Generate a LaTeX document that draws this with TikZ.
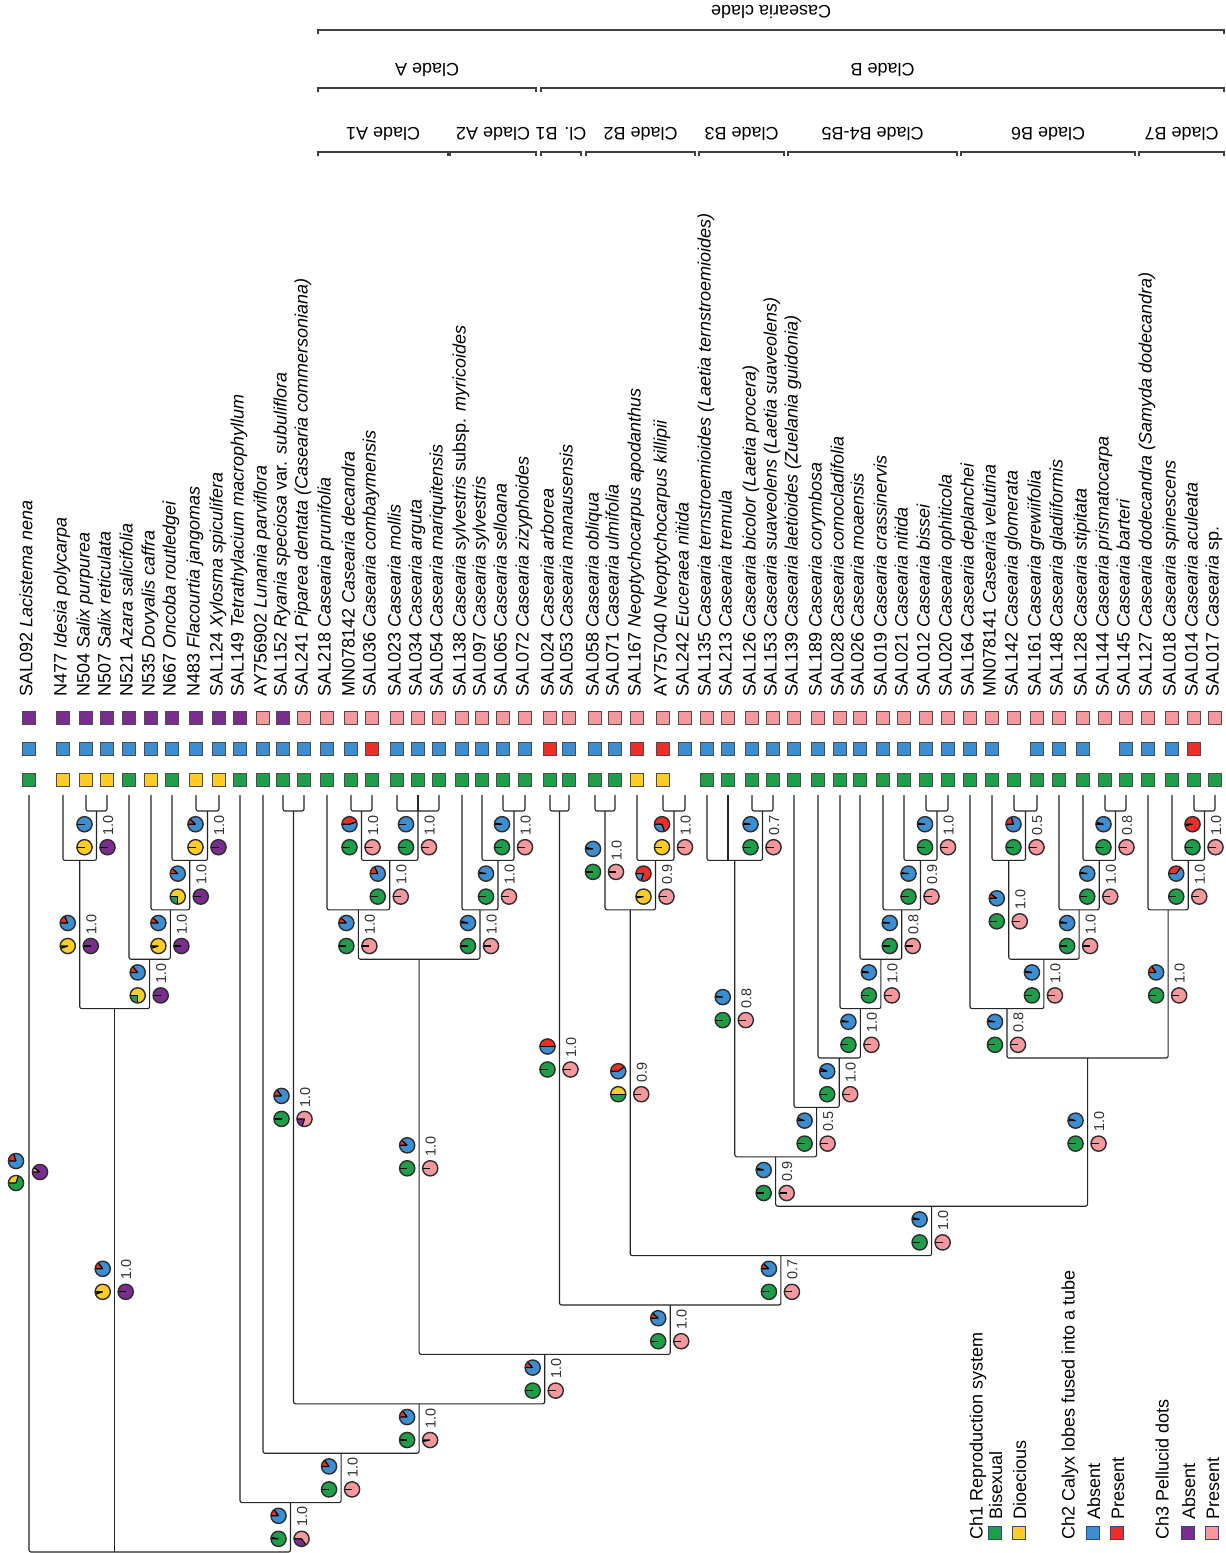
\documentclass[tikz,border=0pt]{standalone}
\usepackage{fontspec}
\setmainfont{Liberation Sans}
\usetikzlibrary{calc}

\definecolor{chgreen}{RGB}{30,158,72}
\definecolor{chyellow}{RGB}{255,204,38}
\definecolor{chblue}{RGB}{60,142,208}
\definecolor{chred}{RGB}{236,45,40}
\definecolor{chpurple}{RGB}{122,45,142}
\definecolor{chpink}{RGB}{245,152,158}
\definecolor{rimgray}{RGB}{45,45,45}

\tikzset{
  branch/.style={draw=black!85, line width=0.55pt, rounded corners=1pt},
  bracket/.style={draw=black!75, line width=0.6pt},
  sq/.style={draw=black!70, line width=0.7pt, minimum size=6.6pt, inner sep=0pt},
  sqg/.style={fill=chgreen}, sqy/.style={fill=chyellow},
  sqb/.style={fill=chblue}, sqr/.style={fill=chred},
  sqp/.style={fill=chpurple}, sqk/.style={fill=chpink},
  sqn/.style={draw=none, fill=none},
  taxon/.style={rotate=90, anchor=base west, inner sep=0pt, font=\fontsize{9}{10}\selectfont},
  support/.style={rotate=90, anchor=base west, inner sep=0pt, text=black!80, font=\fontsize{7.2}{8}\selectfont},
  header/.style={rotate=180, inner sep=0pt, font=\fontsize{9}{10}\selectfont},
  legtitle/.style={rotate=90, anchor=base west, inner sep=0pt, font=\fontsize{9}{10}\selectfont},
  legkey/.style={draw={rgb, 255:red, 45; green, 70; blue, 150}, line width=0.4pt, minimum size=6.2pt, inner sep=0pt},
  slice/.style={draw=black, line width=0.6pt},
  rim/.style={draw=rimgray, line width=0.7pt},
}

% one pie: centre, share of second state, first colour, second colour
\newcommand{\pie}[4]{%
  \fill[#3] (#1) circle[radius=7.6];
  \fill[#4] (#1) -- ++(180:7.6) arc[start angle=180, end angle={180+360*#2}, radius=7.6] -- cycle;
  \draw[slice] (#1) -- ++(180:7.6) (#1) -- ++({180+360*#2}:7.6);
  \draw[rim] (#1) circle[radius=7.6];
}
% clade: name, left child, right child, level
\newcommand{\clade}[4]{%
  \path ($(#2)!0.5!(#3)$) coordinate (#1);
  \coordinate (#1) at (#1 |- #4);
  \draw[branch] (#2) |- (#1) -| (#3);
}
% pies on a stem: node, parent level, Ch2, Ch1, Ch3, support
\newcommand{\charpies}[6]{%
  \path ($(#1)!0.5!(#1 |- #2)$) coordinate (#1-m);
  \pie{$(#1-m)+(-12,-11.5)$}{#3}{chblue}{chred}
  \pie{$(#1-m)+(-12,11.5)$}{#4}{chgreen}{chyellow}
  \pie{$(#1-m)+(11,11.5)$}{#5}{chpurple}{chpink}
  \node[support] (#1-pp) at ($(#1-m)+(16.5,0)$) {#6};
}
% bracket over a clade: name, x1, x2, y, text
\newcommand{\cladebar}[5]{%
  \draw[bracket] ({#2},{#4+4}) -- ({#2},{#4}) -- ({#3},{#4}) -- ({#3},{#4+4});
  \node[header] (#1) at ({(#2+#3)/2},{#4-18}) {#5};
}

\begin{document}
\begin{tikzpicture}[x=0.5pt,y=0.5pt,yscale=-1,xscale=1]
\path[fill=white] (0,0) rectangle (1226,1553);
\useasboundingbox (0,0) rectangle (1226,1553);

%Levels of the tree
\foreach \k in {0,...,15} \coordinate (L\k) at (0,{811+49.4*\k});

%Taxa, character squares and names
\foreach \x/\ca/\cb/\cc/\lab [count=\i] in {
  29/g/b/p/{SAL092 \textit{Lacistema nena}},
  63/y/b/p/{N477 \textit{Idesia polycarpa}},
  86/y/b/p/{N504 \textit{Salix purpurea}},
  107/y/b/p/{N507 \textit{Salix reticulata}},
  129/g/b/p/{N521 \textit{Azara salicifolia}},
  151/y/b/p/{N535 \textit{Dovyalis caffra}},
  172/g/b/p/{N667 \textit{Oncoba routledgei}},
  196/y/b/p/{N483 \textit{Flacourtia jangomas}},
  219/y/b/p/{SAL124 \textit{Xylosma spiculifera}},
  240/g/b/p/{SAL149 \textit{Tetrathylacium macrophyllum}},
  263/g/b/k/{AY756902 \textit{Lunania parviflora}},
  283/g/b/p/{SAL152 \textit{Ryania speciosa} var. \textit{subuliflora}},
  304/g/b/k/{SAL241 \textit{Piparea dentata (Casearia commersoniana)}},
  327/g/b/k/{SAL218 \textit{Casearia prunifolia}},
  351/g/b/k/{MN078142 \textit{Casearia decandra}},
  372/g/r/k/{SAL036 \textit{Casearia combaymensis}},
  397/g/b/k/{SAL023 \textit{Casearia mollis}},
  418/g/b/k/{SAL034 \textit{Casearia arguta}},
  439/g/b/k/{SAL054 \textit{Casearia mariquitensis}},
  462/g/b/k/{SAL138 \textit{Casearia sylvestris} subsp. \textit{myricoides}},
  482/g/b/k/{SAL097 \textit{Casearia sylvestris}},
  503/g/b/k/{SAL065 \textit{Casearia selloana}},
  525/g/b/k/{SAL072 \textit{Casearia zizyphoides}},
  550/g/r/k/{SAL024 \textit{Casearia arborea}},
  569/g/b/k/{SAL053 \textit{Casearia manausensis}},
  595/g/b/k/{SAL058 \textit{Casearia obliqua}},
  615/g/b/k/{SAL071 \textit{Casearia ulmifolia}},
  637/y/r/k/{SAL167 \textit{Neoptychocarpus apodanthus}},
  663/y/r/k/{AY757040 \textit{Neoptychocarpus killipii}},
  685/n/b/k/{SAL242 \textit{Euceraea nitida}},
  707/g/b/k/{SAL135 \textit{Casearia ternstroemioides (Laetia ternstroemioides)}},
  728/g/b/k/{SAL213 \textit{Casearia tremula}},
  752/g/b/k/{SAL126 \textit{Casearia bicolor (Laetia procera)}},
  773/g/b/k/{SAL153 \textit{Casearia suaveolens (Laetia suaveolens)}},
  794/g/b/k/{SAL139 \textit{Casearia laetioides (Zuelania guidonia)}},
  818/g/b/k/{SAL189 \textit{Casearia corymbosa}},
  840/g/b/k/{SAL028 \textit{Casearia comocladifolia}},
  860/g/b/k/{SAL026 \textit{Casearia moaensis}},
  883/g/b/k/{SAL019 \textit{Casearia crassinervis}},
  904/g/b/k/{SAL021 \textit{Casearia nitida}},
  926/g/b/k/{SAL012 \textit{Casearia bissei}},
  948/g/b/k/{SAL020 \textit{Casearia ophiticola}},
  970/g/b/k/{SAL164 \textit{Casearia deplanchei}},
  992/g/b/k/{MN078141 \textit{Casearia velutina}},
  1014/g/n/k/{SAL142 \textit{Casearia glomerata}},
  1037/g/b/k/{SAL161 \textit{Casearia grewiifolia}},
  1059/g/b/k/{SAL148 \textit{Casearia gladiiformis}},
  1083/g/b/k/{SAL128 \textit{Casearia stipitata}},
  1105/g/n/k/{SAL144 \textit{Casearia prismatocarpa}},
  1126/g/b/k/{SAL145 \textit{Casearia barteri}},
  1148/g/b/k/{SAL127 \textit{Casearia dodecandra (Samyda dodecandra)}},
  1172/g/b/k/{SAL018 \textit{Casearia spinescens}},
  1194/g/r/k/{SAL014 \textit{Casearia aculeata}},
  1215/g/n/k/{SAL017 \textit{Casearia} sp.}}{
  \coordinate (t\i) at (\x,795);
  \node[sq, sq\cc] (cc\i) at (\x,718) {};
  \node[sq, sq\cb] (cb\i) at (\x,749) {};
  \node[sq, sq\ca] (ca\i) at (\x,780) {};
  \node[taxon] (lab\i) at (\x+3.5,697) {\lab};
}

%Tree: outgroups
\clade{nA}{t3}{t4}{L0}
\clade{nB}{t2}{nA}{L1}
\clade{nC}{t8}{t9}{L0}
\clade{nD}{t7}{nC}{L1}
\clade{nE}{t6}{nD}{L2}
\clade{nF}{t5}{nE}{L3}
\clade{nG}{nB}{nF}{L4}
\clade{nH}{t12}{t13}{L0}
%Tree: Clade A
\clade{nAa}{t15}{t16}{L0}
\clade{nAb}{t17}{t19}{L0}
\draw[branch] (t18) -- (t18 |- nAb);
\clade{nAc}{nAa}{nAb}{L1}
\clade{nAone}{t14}{nAc}{L2}
\clade{nAd}{t22}{t23}{L0}
\clade{nAe}{t21}{nAd}{L1}
\clade{nAtwo}{t20}{nAe}{L2}
\clade{cladeA}{nAone}{nAtwo}{L3}
%Tree: Clade B
\clade{nBone}{t24}{t25}{L0}
\clade{nBa}{t26}{t27}{L0}
\clade{nBb}{t29}{t30}{L0}
\clade{nBc}{t28}{nBb}{L1}
\clade{nBtwo}{nBa}{nBc}{L2}
\clade{nBd}{t33}{t34}{L0}
\clade{nBthree}{t31}{nBd}{L1}
\draw[branch] (t32) -- (t32 |- nBthree);
\clade{nBe}{t41}{t42}{L0}
\clade{nBf}{t40}{nBe}{L1}
\clade{nBg}{t39}{nBf}{L2}
\clade{nBh}{t38}{nBg}{L3}
\clade{nBi}{t37}{nBh}{L4}
\clade{nBj}{t36}{nBi}{L5}
\clade{nBfour}{t35}{nBj}{L6}
\clade{nBk}{nBthree}{nBfour}{L7}
\clade{nBl}{t45}{t46}{L0}
\clade{nBm}{t44}{nBl}{L1}
\clade{nBn}{t49}{t50}{L0}
\clade{nBo}{t48}{nBn}{L1}
\clade{nBp}{t47}{nBo}{L2}
\clade{nBq}{nBm}{nBp}{L3}
\clade{nBsix}{t43}{nBq}{L4}
\clade{nBr}{t53}{t54}{L0}
\clade{nBs}{t52}{nBr}{L1}
\clade{nBseven}{t51}{nBs}{L2}
\clade{nBt}{nBsix}{nBseven}{L5}
\clade{nBu}{nBk}{nBt}{L8}
\clade{nBv}{nBtwo}{nBu}{L9}
\clade{cladeB}{nBone}{nBv}{L10}
%Tree: backbone
\clade{nCas}{cladeA}{cladeB}{L11}
\clade{nI}{nH}{nCas}{L12}
\clade{nK}{t11}{nI}{L13}
\clade{nL}{t10}{nK}{L14}
\clade{root}{t1}{nL}{L15}
\draw[branch] (nG) -- (nG |- root);

%Ancestral states
\charpies{nA}{L1}{0}{1}{0}{1.0}
\charpies{nB}{L4}{0.18}{0.95}{0}{1.0}
\charpies{nC}{L1}{0.12}{1}{0}{1.0}
\charpies{nD}{L2}{0.12}{0.75}{0}{1.0}
\charpies{nE}{L3}{0.12}{0.95}{0}{1.0}
\charpies{nF}{L4}{0.14}{0.75}{0}{1.0}
\charpies{nG}{L15}{0.15}{0.95}{0}{1.0}
\charpies{nH}{L12}{0.15}{0}{0.8}{1.0}
\charpies{nAa}{L1}{0.45}{0}{1}{1.0}
\charpies{nAb}{L1}{0}{0}{1}{1.0}
\charpies{nAc}{L2}{0.18}{0}{1}{1.0}
\charpies{nAone}{L3}{0.12}{0}{1}{1.0}
\charpies{nAd}{L1}{0.02}{0}{1}{1.0}
\charpies{nAe}{L2}{0.03}{0}{1}{1.0}
\charpies{nAtwo}{L3}{0.04}{0}{1}{1.0}
\charpies{cladeA}{L11}{0.12}{0}{1}{1.0}
\charpies{nBone}{L10}{0.5}{0}{1}{1.0}
\charpies{nBa}{L2}{0.03}{0}{1}{1.0}
\charpies{nBb}{L1}{0.7}{1}{1}{1.0}
\charpies{nBc}{L2}{0.8}{0.97}{1}{0.9}
\charpies{nBtwo}{L9}{0.4}{0.5}{1}{0.9}
\charpies{nBd}{L1}{0.02}{0}{1}{0.7}
\charpies{nBthree}{L7}{0.02}{0}{1}{0.8}
\charpies{nBe}{L1}{0.02}{0}{1}{1.0}
\charpies{nBf}{L2}{0.02}{0}{1}{0.9}
\charpies{nBg}{L3}{0.02}{0}{1}{0.8}
\charpies{nBh}{L4}{0.03}{0}{1}{1.0}
\charpies{nBi}{L5}{0.03}{0}{1}{1.0}
\charpies{nBj}{L6}{0.06}{0}{1}{1.0}
\charpies{nBfour}{L7}{0.05}{0}{1}{0.5}
\charpies{nBk}{L8}{0.04}{0}{1}{0.9}
\charpies{nBl}{L1}{0.2}{0}{1}{0.5}
\charpies{nBm}{L3}{0.1}{0}{1}{1.0}
\charpies{nBn}{L1}{0.04}{0}{1}{0.8}
\charpies{nBo}{L2}{0.03}{0}{1}{1.0}
\charpies{nBp}{L3}{0.03}{0}{1}{1.0}
\charpies{nBq}{L4}{0.03}{0}{1}{1.0}
\charpies{nBsix}{L5}{0.03}{0}{1}{0.8}
\charpies{nBr}{L1}{0.97}{0}{1}{1.0}
\charpies{nBs}{L2}{0.35}{0}{1}{1.0}
\charpies{nBseven}{L5}{0.15}{0}{1}{1.0}
\charpies{nBt}{L8}{0.04}{0}{1}{1.0}
\charpies{nBu}{L9}{0.04}{0}{1}{1.0}
\charpies{nBv}{L10}{0.12}{0}{1}{0.7}
\charpies{cladeB}{L11}{0.12}{0}{1}{1.0}
\charpies{nCas}{L12}{0.13}{0}{1}{1.0}
\charpies{nI}{L13}{0.15}{0}{0.97}{1.0}
\charpies{nK}{L14}{0.15}{0}{1}{1.0}
\charpies{nL}{L15}{0.15}{0.03}{0.65}{1.0}
%root
\pie{16,1161}{0.2}{chblue}{chred}
\pie{16,1183}{0.3}{chgreen}{chyellow}
\pie{40,1172}{0.1}{chpurple}{chpink}

%Clade brackets
\cladebar{hCas}{318}{1224}{30}{Casearia clade}
\cladebar{hA}{318}{536}{88}{Clade A}
\cladebar{hB}{541}{1224}{88}{Clade B}
\cladebar{hAone}{318}{448}{152}{Clade A1}
\cladebar{hAtwo}{450}{536}{152}{Clade A2}
\cladebar{hBone}{541}{581}{152}{Cl. B1}
\cladebar{hBtwo}{586}{695}{152}{Clade B2}
\cladebar{hBthree}{699}{784}{152}{Clade B3}
\cladebar{hBfour}{788}{957}{152}{Clade B4-B5}
\cladebar{hBsix}{961}{1135}{152}{Clade B6}
\cladebar{hBseven}{1139}{1224}{152}{Clade B7}

% Legend
\node[legtitle] (leg1) at (982.5,1540) {Ch1 Reproduction system};
\node[legkey, fill=chgreen] (key1a) at (995,1533) {};
\node[legtitle] (leg1a) at (1002,1520) {Bisexual};
\node[legkey, fill=chyellow] (key1b) at (1019,1533) {};
\node[legtitle] (leg1b) at (1026,1520) {Dioecious};
\node[legtitle] (leg2) at (1074.5,1540) {Ch2 Calyx lobes fused into a tube};
\node[legkey, fill=chblue] (key2a) at (1093,1533) {};
\node[legtitle] (leg2a) at (1100,1520) {Absent};
\node[legkey, fill=chred] (key2b) at (1117,1533) {};
\node[legtitle] (leg2b) at (1124,1520) {Present};
\node[legtitle] (leg3) at (1168.5,1540) {Ch3 Pellucid dots};
\node[legkey, fill=chpurple] (key3a) at (1188,1533) {};
\node[legtitle] (leg3a) at (1195,1520) {Absent};
\node[legkey, fill=chpink] (key3b) at (1212,1533) {};
\node[legtitle] (leg3b) at (1219,1520) {Present};

\end{tikzpicture}
\end{document}
